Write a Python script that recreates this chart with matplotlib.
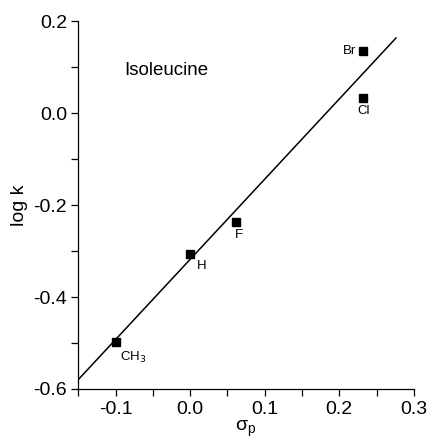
import matplotlib.pyplot as plt
import numpy as np

plt.rcParams['font.family'] = ['Liberation Sans', 'DejaVu Sans']
plt.rcParams['axes.unicode_minus'] = False

# substituent constants and measured rates
groups = ["CH$_3$", "H", "F", "Cl", "Br"]
sigma_p = [-0.10, 0.0, 0.062, 0.232, 0.232]
log_k = [-0.497, -0.307, -0.237, 0.033, 0.135]

# fit line drawn across the plot
fit_slope = 1.744
fit_icept = -0.318
fit_x = [-0.15, 0.276]

# label offsets in points (dx, dy, ha, va)
label_pos = {
    "CH$_3$": (3, -6, "left", "top"),
    "H": (5, -4, "left", "top"),
    "F": (-1, -5, "left", "top"),
    "Cl": (0, -5, "center", "top"),
    "Br": (-5, 0, "right", "center"),
}

fig = plt.figure(figsize=(4.28, 4.41), dpi=100)
ax = fig.add_axes([0.183, 0.118, 0.784, 0.834])

xs = np.array(fit_x)
ax.plot(xs, fit_slope * xs + fit_icept, color="black", lw=1.1)
ax.plot(sigma_p, log_k, "s", color="black", ms=5.5)

for g, x, y in zip(groups, sigma_p, log_k):
    dx, dy, ha, va = label_pos[g]
    ax.annotate(g, (x, y), xytext=(dx, dy), textcoords="offset points",
                ha=ha, va=va, fontsize=9.5)

ax.text(-0.089, 0.093, "Isoleucine", fontsize=13.5, ha="left", va="center")

ax.set_xlim(-0.15, 0.3)
ax.set_ylim(-0.6, 0.2)
ax.set_xticks([-0.1, 0.0, 0.1, 0.2, 0.3])
ax.set_xticks(np.arange(-0.15, 0.31, 0.05), minor=True)
ax.set_yticks([-0.6, -0.4, -0.2, 0.0, 0.2])
ax.set_yticks([-0.5, -0.3, -0.1, 0.1], minor=True)
ax.tick_params(which="both", direction="out", length=5, width=0.9,
               labelsize=14, pad=3)
ax.tick_params(axis="x", which="major", pad=4)
ax.set_xlabel("σ$_\\mathregular{p}$", fontsize=14, labelpad=0)
ax.set_ylabel("log k", fontsize=14, labelpad=4)

for s in ["left", "bottom"]:
    ax.spines[s].set_linewidth(0.9)
for s in ["top", "right"]:
    ax.spines[s].set_visible(False)

fig.savefig("out.png", dpi=100)
